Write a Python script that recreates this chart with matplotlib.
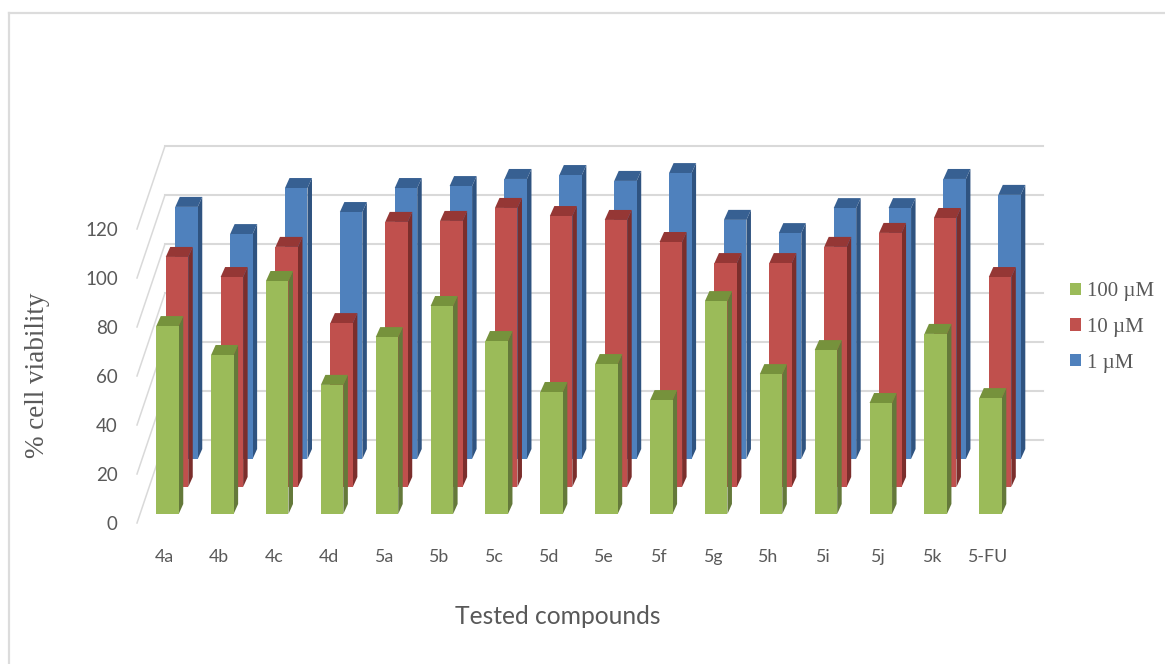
import matplotlib
matplotlib.use("Agg")
import matplotlib.pyplot as plt
from matplotlib.patches import Patch, Polygon
from matplotlib.lines import Line2D

categories = ["4a", "4b", "4c", "4d", "5a", "5b", "5c", "5d", "5e", "5f", "5g", "5h", "5i", "5j", "5k", "5-FU"]
values_100uM = [76.7, 64.9, 95.1, 52.7, 72.2, 84.9, 70.6, 49.8, 61.2, 46.5, 86.9, 57.1, 66.9, 45.3, 73.5, 47.3]
values_10uM = [93.9, 85.7, 98.0, 66.9, 108.2, 108.6, 113.9, 110.6, 109.0, 100.0, 91.4, 91.4, 98.0, 103.7, 109.8, 85.7]
values_1uM = [102.9, 91.8, 110.6, 100.8, 110.6, 111.4, 114.3, 115.9, 113.5, 116.7, 97.6, 92.2, 102.4, 102.4, 114.3, 107.8]
y_ticks = [0, 20, 40, 60, 80, 100, 120]
grid_levels = [0, 20, 40, 60, 80, 100, 120]

W, H = 1165, 664
PX_Y = 2.45    # pixels per value unit
PX_X = 54.87   # pixels per category
X0, Y0 = 164, 523
AX_L, AX_B = 124, 546

plt.rcParams["font.family"] = ["Lato", "DejaVu Sans"]
fig = plt.figure(figsize=(W / 100, H / 100), dpi=100, facecolor="white")
ax = fig.add_axes([AX_L / W, 1 - AX_B / H, (W - AX_L) / W, AX_B / H])
ax.set_xlim((AX_L - X0) / PX_X, (W - X0) / PX_X)
ax.set_ylim((Y0 - AX_B) / PX_Y, Y0 / PX_Y)
for s in ax.spines.values():
    s.set_visible(False)
ax.set_facecolor("none")

dx = lambda px: px / PX_X
dy = lambda px: px / PX_Y

# outer chart frame (figure-space)
frame = "#dcdcdc"
fig.add_artist(Line2D([9 / W, 9 / W], [0, 1 - 13 / H], color=frame, lw=1.6))
fig.add_artist(Line2D([9 / W, 1], [1 - 13 / H, 1 - 13 / H], color=frame, lw=1.6))

# walls: back gridlines and side-wall diagonals
grid_c = "#d9d9d9"
for g in grid_levels:
    ya = g + dy(83)
    ax.plot([dx(165 - X0), dx(1043 - X0)], [ya, ya], color=grid_c, lw=1.5, zorder=1, clip_on=False)
    ax.plot([dx(137 - X0), dx(165 - X0)], [g, ya], color=grid_c, lw=1.1, zorder=1, clip_on=False)

# series, back to front
series = [
    (values_1uM, "#4F81BD", "#376092", "#2F5380", 22.5, 64, 2),
    (values_10uM, "#C0504D", "#953735", "#7B2E2C", 13.0, 36, 3),
    (values_100uM, "#9BBB59", "#76923C", "#64793A", 3.5, 9, 4),
]
BAR_W = 22.5
CAP_X, CAP_Y = 4.5, 10
for vals, face, cap, side, xoff, yoff, z in series:
    for i, v in enumerate(vals):
        left = i + dx(xoff - BAR_W / 2)
        right = left + dx(BAR_W)
        base = dy(yoff)
        top = base + v
        ax.add_patch(Polygon([(right, base), (right + dx(CAP_X), base + dy(CAP_Y)),
                              (right + dx(CAP_X), top + dy(CAP_Y)), (right, top)],
                             closed=True, fc=side, ec="none", zorder=z, clip_on=False))
        ax.add_patch(Polygon([(left, top), (right, top), (right + dx(CAP_X), top + dy(CAP_Y)),
                              (left + dx(CAP_X), top + dy(CAP_Y))],
                             closed=True, fc=cap, ec="none", zorder=z, clip_on=False))
    centers = [i + dx(xoff) for i in range(len(vals))]
    ax.bar(centers, vals, width=dx(BAR_W), bottom=dy(yoff), color=face, edgecolor="none", zorder=z)

# ticks
txt = "#595959"
ax.set_yticks(y_ticks)
ax.set_xticks(range(len(categories)))
ax.set_xticklabels(categories)
ax.tick_params(axis="y", length=0, pad=4.5, labelsize=13.5, labelcolor=txt)
ax.tick_params(axis="x", length=0, pad=2.5, labelsize=12.8, labelcolor=txt)

# axis titles
fig.text(558 / W, 1 - 616 / H, "Tested compounds", ha="center", va="center",
         fontsize=17.7, color=txt, family=["Lato", "DejaVu Sans"])
fig.text(38 / W, 1 - 375 / H, "% cell viability", ha="center", va="center", rotation=90,
         fontsize=19.5, color=txt, family=["Liberation Serif", "DejaVu Serif"])

# legend
handles = [Patch(fc="#9BBB59", ec="none"), Patch(fc="#C0504D", ec="none"), Patch(fc="#4F81BD", ec="none")]
fig.legend(handles, ["100 µM", "10 µM", "1 µM"], loc="center left",
           bbox_to_anchor=(1070 / W, 1 - 327.5 / H), frameon=False, handlelength=0.53, handleheight=0.53,
           handletextpad=0.29, labelspacing=0.8, borderpad=0, borderaxespad=0,
           prop={"family": ["Liberation Serif", "DejaVu Serif"], "size": 15}, labelcolor=txt)

fig.savefig("out.png", dpi=100, facecolor="white")
